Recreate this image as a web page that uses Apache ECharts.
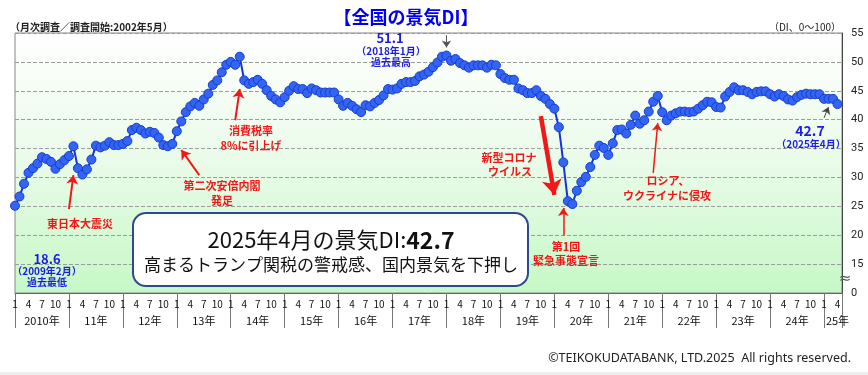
<!DOCTYPE html>
<html>
<head>
<meta charset="utf-8">
<script src="https://cdn.jsdelivr.net/npm/echarts/dist/echarts.min.js"></script>
<style>
  html, body { margin: 0; padding: 0; background: #fff; }
  #chart { width: 868px; height: 375px; }
</style>
</head>
<body>
<div id="chart"></div>
<script>
// 景気DI (monthly)
var di2010 = [25.1, 26.7, 28.9, 30.8, 31.6, 32.4, 33.5, 33.2, 32.7, 31.5, 32.3, 33.0]
var di2011 = [33.7, 35.4, 31.6, 30.5, 31.4, 33.1, 35.5, 35.2, 35.5, 36.1, 35.6, 35.6]
var di2012 = [35.8, 36.3, 38.2, 38.6, 38.2, 37.6, 37.9, 37.7, 36.9, 35.6, 35.4, 35.8]
var di2013 = [38.0, 39.7, 41.3, 42.3, 42.9, 42.4, 43.5, 44.5, 46.0, 46.8, 48.2, 49.5]
var di2014 = [50.0, 49.5, 50.9, 46.8, 46.2, 46.5, 46.9, 46.2, 45.1, 44.1, 43.5, 43.0]
var di2015 = [43.9, 45.0, 45.8, 45.3, 45.3, 44.6, 45.4, 45.1, 44.7, 44.7, 44.7, 44.7]
var di2016 = [43.5, 42.4, 42.9, 42.4, 41.8, 41.3, 42.5, 42.3, 42.9, 43.4, 44.2, 45.3]
var di2017 = [45.2, 45.4, 46.2, 46.5, 46.5, 46.7, 47.5, 47.8, 48.3, 49.1, 49.9, 50.9]
var di2018 = [51.1, 50.2, 50.5, 49.8, 49.4, 49.0, 49.4, 49.4, 49.4, 49.0, 49.5, 49.4]
var di2019 = [47.9, 47.2, 46.9, 46.9, 45.4, 45.1, 44.6, 44.6, 45.1, 44.1, 43.6, 42.7]
var di2020 = [41.9, 38.7, 32.6, 25.9, 25.4, 27.7, 29.2, 30.1, 31.8, 33.9, 35.5, 35.1]
var di2021 = [33.9, 35.9, 38.2, 38.3, 37.6, 39.1, 40.7, 39.3, 39.9, 41.4, 43.1, 44.1]
var di2022 = [41.3, 39.9, 40.7, 41.1, 41.4, 41.4, 41.3, 41.4, 41.9, 42.5, 43.1, 43.0]
var di2023 = [42.2, 42.1, 44.0, 44.8, 45.6, 45.1, 45.1, 44.8, 44.4, 44.8, 44.9, 44.9]
var di2024 = [44.4, 44.0, 44.4, 44.1, 43.5, 43.3, 43.9, 44.3, 44.5, 44.4, 44.4, 44.4]
var di2025 = [43.6, 43.6, 43.6, 42.7]

var years = [2010, 2011, 2012, 2013, 2014, 2015, 2016, 2017, 2018, 2019, 2020, 2021, 2022, 2023, 2024, 2025]
var monthTicks = ['1', '4', '7', '10']
var yTicks = [0, 15, 20, 25, 30, 35, 40, 45, 50, 55]

var diValues = [].concat(di2010, di2011, di2012, di2013, di2014, di2015, di2016, di2017,
  di2018, di2019, di2020, di2021, di2022, di2023, di2024, di2025)

// categories 'YYYY-MM' (one empty month after the last point keeps the axis end)
var months = []
years.forEach(function (y) {
  for (var m = 1; m <= 12; m++) {
    if (months.length > diValues.length) break
    months.push(y + '-' + (m < 10 ? '0' + m : m))
  }
})

var JP = '"Noto Sans CJK JP"'
var RED = '#f01818'
var BLUE = '#1c1ce0'

function arrow(x1, y1, x2, y2, color, width, size) {
  return [
    { coord: [x1, y1], symbol: 'none', lineStyle: { color: color, width: width, type: 'solid' } },
    { coord: [x2, y2], symbol: 'arrow', symbolSize: size, lineStyle: { color: color, width: width, type: 'solid' } }
  ]
}

function txt(x, y, text, font, color, align) {
  return {
    type: 'text', x: x, y: y, z: 110,
    style: { text: text, font: font, fill: color, align: align || 'center', verticalAlign: 'middle' }
  }
}

var chart = echarts.init(document.getElementById('chart'))
chart.setOption({
  animation: false,
  grid: {
    left: 15, right: 26, top: 33, bottom: 82,
    show: true,
    borderColor: '#888',
    borderWidth: 1,
    backgroundColor: new echarts.graphic.LinearGradient(0, 0, 0, 1, [
      { offset: 0, color: '#ffffff' },
      { offset: 0.5, color: '#e9fbe9' },
      { offset: 1, color: '#c6f8c6' }
    ])
  },
  xAxis: [
    {
      type: 'category',
      data: months,
      boundaryGap: false,
      axisLine: { lineStyle: { color: '#666' } },
      axisTick: { show: false },
      axisLabel: {
        interval: function (i, v) { return monthTicks.indexOf(String(+v.slice(5))) >= 0 && i < diValues.length },
        formatter: function (v) { return String(+v.slice(5)) },
        fontSize: 10, color: '#111', margin: 6, fontFamily: JP
      },
      splitLine: { show: false }
    },
    {
      type: 'category',
      data: months,
      boundaryGap: false,
      position: 'bottom',
      axisLine: { show: false },
      axisTick: {
        show: true,
        interval: function (i, v) { return v.slice(5) === '01' || i === months.length - 1 },
        length: 35,
        lineStyle: { color: '#777' }
      },
      axisLabel: {
        interval: function (i, v) { return v.slice(5) === '07' || i === diValues.length - 1 },
        formatter: function (v) {
          var y = v.slice(0, 4)
          return (y === '2010' ? y : y.slice(2)) + '年'
        },
        fontSize: 11, color: '#111', margin: 22, fontFamily: JP
      },
      splitLine: { show: false }
    }
  ],
  yAxis: {
    type: 'value',
    position: 'right',
    min: 10, max: 55, interval: 5,
    axisLine: { show: true, lineStyle: { color: '#444' } },
    axisTick: { show: false },
    axisLabel: {
      formatter: function (v) { return v === 10 ? String(yTicks[0]) : String(v) },
      fontSize: 11, color: '#222', margin: 9, fontFamily: 'Roboto'
    },
    splitLine: { lineStyle: { type: 'dashed', color: '#9c9c9c' } }
  },
  series: [{
    type: 'line',
    data: diValues,
    xAxisIndex: 0,
    symbol: 'circle',
    symbolSize: 9,
    showAllSymbol: true,
    lineStyle: { color: '#1533d6', width: 2 },
    itemStyle: { color: '#3265f5', borderColor: '#1a3ccc', borderWidth: 1 },
    markLine: {
      silent: true,
      animation: false,
      symbol: ['none', 'arrow'],
      label: { show: false },
      emphasis: { disabled: true },
      data: [
        arrow(11.8, 24.5, 13.4, 30.4, RED, 2, 9),
        arrow(41.4, 30.4, 36.9, 34.75, RED, 2, 9),
        arrow(49.4, 39.9, 50.06, 45.3, RED, 2, 9),
        arrow(117.2, 40.6, 119.7, 27.0, RED, 4.5, 15),
        arrow(121.5, 19.9, 121.9, 24.7, RED, 1.5, 8),
        arrow(142.4, 30.8, 143.3, 39.4, RED, 1.5, 8),
        arrow(95.8, 54.6, 95.8, 52.5, '#555', 1, 7),
        arrow(179.8, 40.3, 181.4, 42.2, '#444', 1, 7)
      ]
    }
  }],
  graphic: [
    txt(406, 17, '【全国の景気DI】', 'bold 18px ' + JP, '#0000ee'),
    txt(10, 27, '（月次調査／調査開始:2002年5月）', 'bold 10px ' + JP, '#222', 'left'),
    txt(841, 27, '（DI、0～100）', '10px ' + JP, '#222', 'right'),

    txt(47, 259, '18.6', 'bold 13px ' + JP, BLUE),
    txt(47, 271, '（2009年2月）', 'bold 10px ' + JP, BLUE),
    txt(47, 282, '過去最低', 'bold 10px ' + JP, BLUE),

    txt(390, 38, '51.1', 'bold 13px ' + JP, BLUE),
    txt(391, 51, '（2018年1月）', 'bold 10px ' + JP, BLUE),
    txt(391, 62, '過去最高', 'bold 10px ' + JP, BLUE),

    txt(810, 131, '42.7', 'bold 14px ' + JP, BLUE),
    txt(811, 144, '（2025年4月）', 'bold 10px ' + JP, BLUE),

    txt(80, 224, '東日本大震災', 'bold 11px ' + JP, RED),
    txt(222, 186, '第二次安倍内閣', 'bold 11px ' + JP, RED),
    txt(222, 201, '発足', 'bold 11px ' + JP, RED),
    txt(251, 131, '消費税率', 'bold 11px ' + JP, RED),
    txt(251, 146, '8%に引上げ', 'bold 11px ' + JP, RED),
    txt(509, 158, '新型コロナ', 'bold 11px ' + JP, RED),
    txt(510, 172, 'ウイルス', 'bold 11px ' + JP, RED),
    txt(566, 247, '第1回', 'bold 11px ' + JP, RED),
    txt(566, 261, '緊急事態宣言', 'bold 11px ' + JP, RED),
    txt(668, 181, 'ロシア、', 'bold 11px ' + JP, RED),
    txt(667, 196, 'ウクライナに侵攻', 'bold 11px ' + JP, RED),

    {
      type: 'rect', z: 105,
      shape: { x: 133, y: 213, width: 395, height: 73, r: 13 },
      style: { fill: '#ffffff', stroke: '#2e4a8c', lineWidth: 2 }
    },
    {
      type: 'text', x: 331, y: 240, z: 110,
      style: {
        text: '{a|2025年4月の景気DI:}{b|42.7}',
        align: 'center', verticalAlign: 'middle',
        rich: {
          a: { font: '22px ' + JP, fill: '#111' },
          b: { font: 'bold 23px ' + JP, fill: '#111' }
        }
      }
    },
    txt(331, 265, '高まるトランプ関税の警戒感、国内景気を下押し', '17px ' + JP, '#111'),

    txt(845, 279, '≈', '15px "DejaVu Sans"', '#555'),
    txt(851, 358, '©TEIKOKUDATABANK, LTD.2025  All rights reserved.', '12.5px "Noto Sans"', '#222', 'right'),
    {
      type: 'rect', z: 1,
      shape: { x: 0, y: 372, width: 868, height: 3 },
      style: { fill: '#ececec' }
    }
  ]
})
</script>
</body>
</html>
